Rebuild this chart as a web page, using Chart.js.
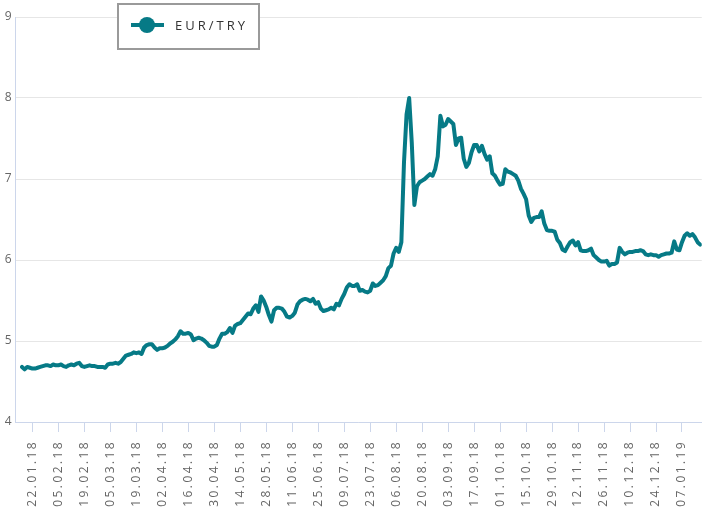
<!DOCTYPE html>
<html>
<head>
<meta charset="utf-8">
<title>EUR/TRY</title>
<script src="https://cdn.jsdelivr.net/npm/chart.js@4.4.1/dist/chart.umd.min.js"></script>
<style>
    html, body { margin: 0; padding: 0; background: #fff; }
    #wrap { position: relative; width: 702px; height: 520px; }
</style>
</head>
<body>
<div id="wrap"><canvas id="lineChart"></canvas></div>
<script>
// daily EUR/TRY closes (weekdays)
const rateJanMar = [
    4.68, 4.65, 4.68, 4.67, 4.66, 4.66, 4.67, 4.68, 4.69, 4.70, 4.70, 4.69, 4.71, 4.70,
    4.70, 4.71, 4.69, 4.68, 4.70, 4.71, 4.70, 4.72, 4.73, 4.69,
    4.68, 4.69, 4.70, 4.69, 4.69, 4.68, 4.68, 4.68, 4.67, 4.71,
    4.72, 4.72, 4.73, 4.72, 4.74, 4.78, 4.82, 4.83, 4.84, 4.86
];
const rateMarMay = [
    4.85, 4.86, 4.84, 4.92, 4.95, 4.96, 4.96, 4.92, 4.89, 4.91,
    4.91, 4.92, 4.94, 4.97, 4.99, 5.02, 5.06, 5.12, 5.09, 5.09,
    5.10, 5.08, 5.01, 5.03, 5.04, 5.03, 5.01, 4.98, 4.94, 4.93,
    4.93, 4.95, 5.03, 5.09, 5.09, 5.11, 5.16, 5.10, 5.19, 5.21,
    5.22, 5.26, 5.30, 5.34
];
const rateMayAug = [
    5.33, 5.40, 5.44, 5.36, 5.55, 5.50, 5.42, 5.32, 5.24, 5.38,
    5.41, 5.41, 5.40, 5.36, 5.30, 5.29, 5.31, 5.35, 5.45, 5.49,
    5.51, 5.52, 5.51, 5.49, 5.52, 5.46, 5.48, 5.40, 5.37, 5.38,
    5.39, 5.41, 5.39, 5.46, 5.44, 5.52, 5.58, 5.66, 5.70, 5.68,
    5.68, 5.70, 5.62, 5.63, 5.61, 5.60, 5.62, 5.71, 5.68, 5.69,
    5.72, 5.75, 5.80, 5.90, 5.93, 6.08, 6.15, 6.10, 6.22
];
const rateAugOct = [
    7.20, 7.80, 8.00, 7.45, 6.68, 6.91, 6.96, 6.98, 7.00, 7.03,
    7.06, 7.04, 7.12, 7.28, 7.78, 7.65, 7.67, 7.74, 7.71, 7.68,
    7.42, 7.50, 7.51, 7.25, 7.15, 7.20, 7.33, 7.42, 7.42, 7.34,
    7.41, 7.31, 7.24, 7.28, 7.07, 7.04, 6.98, 6.93, 6.94, 7.12,
    7.09, 7.08, 7.06, 7.04, 6.98, 6.88, 6.82, 6.75
];
const rateOctJan = [
    6.55, 6.47, 6.52, 6.53, 6.53, 6.60, 6.45, 6.37, 6.36, 6.36,
    6.35, 6.25, 6.21, 6.13, 6.11, 6.17, 6.22, 6.24, 6.18, 6.22,
    6.12, 6.11, 6.11, 6.12, 6.14, 6.06, 6.03, 6.00, 5.98, 5.98,
    5.99, 5.93, 5.95, 5.95, 5.97, 6.15, 6.10, 6.07, 6.09, 6.10,
    6.10, 6.11, 6.11, 6.12, 6.11, 6.07, 6.06, 6.07, 6.06, 6.06,
    6.04, 6.06, 6.07, 6.08, 6.08, 6.09, 6.23, 6.13, 6.12, 6.22,
    6.30, 6.33, 6.30, 6.32, 6.28, 6.22, 6.19
];
const rates = rateJanMar.concat(rateMarMay, rateMayAug, rateAugOct, rateOctJan);

const firstDay = new Date(2018, 0, 16);
const tickLabels = [
    '22.01.18', '05.02.18', '19.02.18', '05.03.18', '19.03.18', '02.04.18', '16.04.18',
    '30.04.18', '14.05.18', '28.05.18', '11.06.18', '25.06.18', '09.07.18', '23.07.18',
    '06.08.18', '20.08.18', '03.09.18', '17.09.18', '01.10.18', '15.10.18', '29.10.18',
    '12.11.18', '26.11.18', '10.12.18', '24.12.18', '07.01.19'
];
const yTicks = [4, 5, 6, 7, 8, 9];
const seriesName = 'EUR/TRY';

const lineColor = '#067a86';
const axisColor = '#ccd6eb';
const fontFamily = '"Open Sans", "DejaVu Sans", sans-serif';

// trading-day labels: one per value, skipping weekends
function pad(n) { return (n < 10 ? '0' : '') + n; }
var dates = [];
var d = new Date(firstDay);
while (dates.length < rates.length) {
    if (d.getDay() != 0 && d.getDay() != 6) {
        dates.push(pad(d.getDate()) + '.' + pad(d.getMonth() + 1) + '.' + String(d.getFullYear()).slice(2));
    }
    d.setDate(d.getDate() + 1);
}
const tickIndex = tickLabels.map(l => dates.indexOf(l));
const points = rates.map((v, i) => ({ x: i, y: v }));

// letter spaced text like the original
const spacing = {
    id: 'spacing',
    beforeUpdate(chart) { chart.ctx.letterSpacing = '2.4px'; },
    beforeDraw(chart) { chart.ctx.letterSpacing = '2.4px'; }
};

// floating legend box over the plot
const boxLegend = {
    id: 'boxLegend',
    afterDraw(chart) {
        const c = chart.ctx;
        c.save();
        c.fillStyle = '#fff';
        c.fillRect(118, 4, 141, 45);
        c.strokeStyle = '#9a9a9a';
        c.lineWidth = 2;
        c.strokeRect(118, 4, 141, 45);
        c.strokeStyle = lineColor;
        c.lineWidth = 4;
        c.beginPath();
        c.moveTo(131, 25);
        c.lineTo(164, 25);
        c.stroke();
        c.fillStyle = lineColor;
        c.beginPath();
        c.arc(147, 25, 8, 0, Math.PI * 2);
        c.fill();
        c.letterSpacing = '3px';
        c.font = '13px ' + fontFamily;
        c.fillStyle = '#333';
        c.textBaseline = 'middle';
        c.textAlign = 'left';
        c.fillText(seriesName, 175, 26);
        c.restore();
    }
};

new Chart(document.getElementById('lineChart'), {
    type: 'line',
    data: {
        datasets: [{
            label: seriesName,
            data: points,
            borderColor: lineColor,
            backgroundColor: lineColor,
            borderWidth: 4,
            pointRadius: 0,
            tension: 0,
            borderJoinStyle: 'round',
            borderCapStyle: 'round'
        }]
    },
    options: {
        responsive: true,
        maintainAspectRatio: false,
        animation: false,
        layout: { padding: { top: 17, right: 0, left: 0, bottom: 0 } },
        plugins: {
            legend: { display: false },
            tooltip: { enabled: false }
        },
        scales: {
            x: {
                type: 'linear',
                min: -2.7,
                max: 261.6,
                afterBuildTicks: function(scale) {
                    scale.ticks = tickIndex.map(v => ({ value: v }));
                },
                afterFit: function(scale) { scale.height = 98; },
                grid: {
                    drawOnChartArea: false,
                    color: axisColor,
                    tickLength: 10,
                    lineWidth: 1
                },
                border: { color: axisColor, width: 1 },
                ticks: {
                    autoSkip: false,
                    minRotation: 90,
                    maxRotation: 90,
                    padding: 8,
                    color: '#666',
                    font: { family: fontFamily, size: 12, lineHeight: 1 },
                    callback: function(value) {
                        const k = tickIndex.indexOf(value);
                        return k >= 0 ? tickLabels[k] : null;
                    }
                }
            },
            y: {
                min: yTicks[0],
                max: yTicks[yTicks.length - 1],
                afterBuildTicks: function(scale) {
                    scale.ticks = yTicks.map(v => ({ value: v }));
                },
                afterFit: function(scale) { scale.width = 15; },
                grid: { color: '#e6e6e6', lineWidth: 1, drawTicks: false },
                border: { color: axisColor, width: 1 },
                ticks: {
                    padding: 1,
                    color: '#666',
                    font: { family: fontFamily, size: 12 }
                }
            }
        }
    },
    plugins: [spacing, boxLegend]
});
</script>
</body>
</html>
